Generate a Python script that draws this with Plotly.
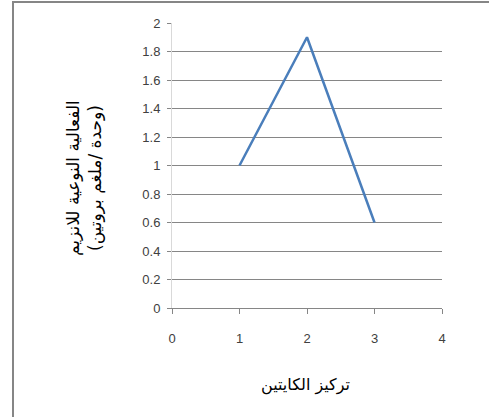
import plotly.graph_objects as go

x_vals = [1, 2, 3]
y_vals = [1.0, 1.9, 0.6]
x_ticks = [0, 1, 2, 3, 4]
y_ticks = [0, 0.2, 0.4, 0.6, 0.8, 1, 1.2, 1.4, 1.6, 1.8, 2]
x_title = "تركيز الكايتين"
y_title_1 = "الفعالية النوعية للانزيم"
y_title_2 = "(وحدة /ملغم بروتين)"

fig = go.Figure()
fig.add_trace(go.Scatter(x=x_vals, y=y_vals, mode="lines",
                         line=dict(color="#4A7EBB", width=2.5), showlegend=False))

tickfont = dict(family="Liberation Sans Narrow, Liberation Sans, sans-serif", size=13, color="#404040")
fig.update_layout(
    width=489, height=417,
    margin=dict(l=172, r=47, t=23, b=109),
    paper_bgcolor="white", plot_bgcolor="white",
    xaxis=dict(range=[0, 4], tickvals=x_ticks, ticktext=[str(v) for v in x_ticks],
               showgrid=False, zeroline=False, showline=True, linecolor="#868686", linewidth=1,
               ticks="outside", ticklen=5, tickcolor="#868686", tickfont=tickfont,
               ticklabelstandoff=13),
    yaxis=dict(range=[0, 2], tickvals=y_ticks, ticktext=[("%g" % v) for v in y_ticks],
               showgrid=True, gridcolor="#868686", gridwidth=1, zeroline=False,
               showline=True, linecolor="#D9D9D9", linewidth=1,
               ticks="outside", ticklen=4, tickcolor="#868686", tickfont=tickfont,
               ticklabelstandoff=4),
    shapes=[
        dict(type="line", xref="paper", yref="paper", x0=(12 - 172) / 270, x1=(489 - 172) / 270,
             y0=(417 - 2 - 109) / 285, y1=(417 - 2 - 109) / 285, line=dict(color="#868686", width=2)),
        dict(type="line", xref="paper", yref="paper", x0=(13 - 172) / 270, x1=(13 - 172) / 270,
             y0=(417 - 2 - 109) / 285, y1=-109 / 285, line=dict(color="#868686", width=2)),
    ],
    annotations=[
        dict(text=x_title, xref="paper", yref="paper", x=(305 - 172) / 270, y=(308 - 385) / 285,
             showarrow=False, font=dict(family="DejaVu Sans, sans-serif", size=16, color="#000000"),
             xanchor="center", yanchor="middle"),
        dict(text=y_title_1 + "<br>" + y_title_2, xref="paper", yref="paper",
             x=(84 - 172) / 270, y=(308 - 178) / 285, textangle=-90, showarrow=False,
             font=dict(family="DejaVu Sans, sans-serif", size=17, color="#000000"),
             xanchor="center", yanchor="middle"),
    ],
)
fig.write_html("out.html")
